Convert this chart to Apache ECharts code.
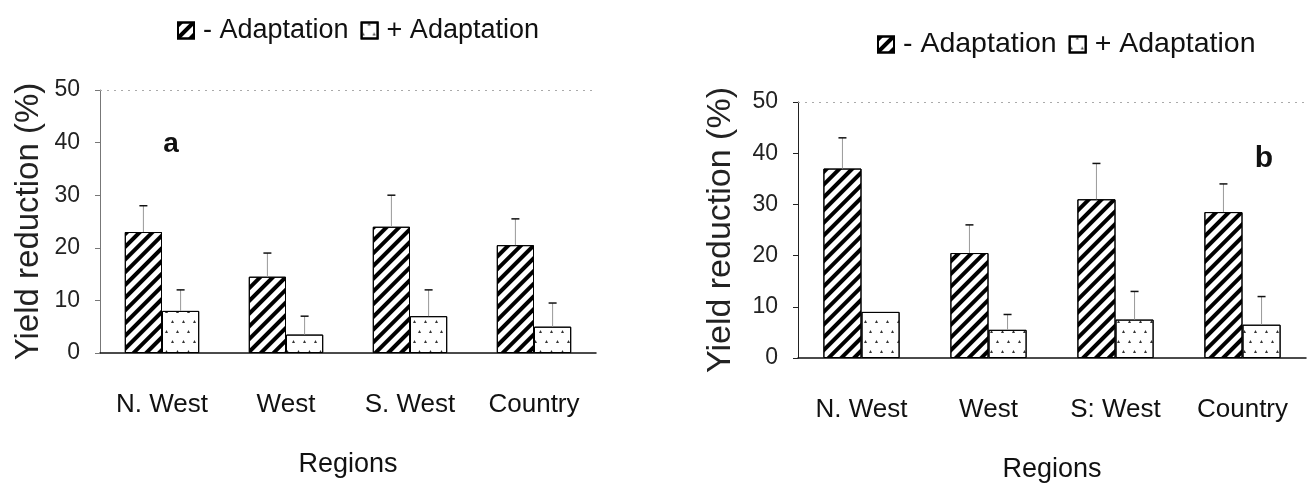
<!DOCTYPE html>
<html><head><meta charset="utf-8">
<script src="https://cdn.jsdelivr.net/npm/echarts@6/dist/echarts.min.js"></script>
<style>html,body{margin:0;padding:0;background:#fff}#c{width:1314px;height:488px}</style>
</head><body><div id="c"></div>
<script>
// ---- data ----
const categoriesA = ['N. West', 'West', 'S. West', 'Country'];
const categoriesB = ['N. West', 'West', 'S: West', 'Country'];
const seriesNames = ['- Adaptation', '+ Adaptation'];
const yTicks = [0, 10, 20, 30, 40, 50];
// panel a
const aWithout = [23, 14.5, 24, 20.5];
const aWithoutErr = [5, 4.5, 6, 5];
const aWith = [8, 3.5, 7, 5];
const aWithErr = [4, 3.5, 5, 4.5];
// panel b
const bWithout = [37, 20.5, 31, 28.5];
const bWithoutErr = [6, 5.5, 7, 5.5];
const bWith = [9, 5.5, 7.5, 6.5];
const bWithErr = [0, 3, 5.5, 5.5];

const FONT = "'Liberation Sans', Arial, sans-serif";
const chart = echarts.init(document.getElementById('c'), null, {renderer: 'canvas'});

const hatch = {symbol: 'rect', symbolSize: 1, dashArrayX: [1, 0], dashArrayY: [4, 5], rotation: -Math.PI / 4, color: '#000'};
const dots = {symbol: 'triangle', symbolSize: 1, dashArrayX: [[3, 8], [0, 6, 3, 2]], dashArrayY: [3, 7], rotation: 0, color: '#333'};

function makeErr(side) {
  return function (params, api) {
    const i = api.value(0), v = api.value(1), e = api.value(2);
    if (!e) return null;
    const band = api.size([1, 0])[0];
    const base = api.coord([i, v]);
    const top = api.coord([i, v + e]);
    const x = base[0] + side * band * 0.15;
    return {type: 'group', children: [
      {type: 'line', shape: {x1: x, y1: base[1], x2: x, y2: top[1]}, style: {stroke: '#999', lineWidth: 1}},
      {type: 'line', shape: {x1: x - 4, y1: top[1], x2: x + 4, y2: top[1]}, style: {stroke: '#111', lineWidth: 1.5}}
    ]};
  };
}
function errData(vals, errs) { return vals.map((v, i) => [i, v, errs[i]]); }

const grids = [
  {left: 100, top: 90, width: 496, height: 263},
  {left: 798, top: 102, width: 508, height: 263}
];

function xAxis(idx, cats) {
  return {
    type: 'category', gridIndex: idx, data: cats,
    axisLine: {lineStyle: {color: '#111', width: 1.5}},
    axisTick: {show: false},
    axisLabel: {color: '#111', fontFamily: FONT, fontSize: 26, margin: 39, interval: 0},
    name: 'Regions', nameLocation: 'middle', nameGap: 98,
    nameTextStyle: {color: '#111', fontFamily: FONT, fontSize: 27}
  };
}
function yAxis(idx, gap, nameSize, axisColor) {
  return {
    type: 'value', gridIndex: idx, min: yTicks[0], max: yTicks[yTicks.length - 1], interval: 10,
    axisLine: {show: true, lineStyle: {color: axisColor, width: 1}},
    axisTick: {show: true, length: 5, lineStyle: {color: axisColor}},
    splitLine: {show: false},
    axisLabel: {color: '#222', fontFamily: FONT, fontSize: 23, margin: 20},
    name: 'Yield reduction (%)', nameLocation: 'middle', nameGap: gap, nameRotate: 90,
    nameTextStyle: {color: '#222', fontFamily: FONT, fontSize: nameSize}
  };
}

function barSeries(name, data, idx, decal, withMark) {
  const s = {
    name: name, type: 'bar', xAxisIndex: idx, yAxisIndex: idx, data: data,
    barGap: '0%', barCategoryGap: '40%',
    itemStyle: {color: '#fff', borderColor: '#000', borderWidth: 1, decal: decal},
    emphasis: {disabled: true}
  };
  if (withMark) {
    s.markLine = {silent: true, symbol: 'none', label: {show: false},
      lineStyle: {type: [2, 5], color: '#aaa', width: 1},
      data: [{yAxis: yTicks[yTicks.length - 1]}]};
  }
  return s;
}

const option = {
  backgroundColor: '#fff',
  animation: false,
  grid: grids,
  legend: [
    {left: 172, top: 12, icon: 'rect', itemWidth: 16, itemHeight: 16, itemGap: 12, data: seriesNames,
     textStyle: {fontFamily: FONT, fontSize: 27, color: '#111', padding: [0, 0, 0, 4]}},
    {left: 872, top: 25, icon: 'rect', itemWidth: 16, itemHeight: 16, itemGap: 12, data: seriesNames,
     textStyle: {fontFamily: FONT, fontSize: 28.5, color: '#111', padding: [0, 0, 0, 4]}}
  ],
  xAxis: [xAxis(0, categoriesA), xAxis(1, categoriesB)],
  yAxis: [yAxis(0, 55, 33, '#777'), yAxis(1, 60, 34, '#222')],
  graphic: [
    {type: 'text', x: 171, y: 144, style: {text: 'a', font: 'bold 28px ' + FONT, fill: '#111', textAlign: 'center', textVerticalAlign: 'middle'}},
    {type: 'text', x: 1264, y: 159, style: {text: 'b', font: 'bold 30px ' + FONT, fill: '#111', textAlign: 'center', textVerticalAlign: 'middle'}}
  ],
  series: [
    barSeries(seriesNames[0], aWithout, 0, hatch, true),
    barSeries(seriesNames[1], aWith, 0, dots, false),
    barSeries(seriesNames[0], bWithout, 1, hatch, true),
    barSeries(seriesNames[1], bWith, 1, dots, false),
    {type: 'custom', xAxisIndex: 0, yAxisIndex: 0, renderItem: makeErr(-1), data: errData(aWithout, aWithoutErr), z: 5, silent: true},
    {type: 'custom', xAxisIndex: 0, yAxisIndex: 0, renderItem: makeErr(1), data: errData(aWith, aWithErr), z: 5, silent: true},
    {type: 'custom', xAxisIndex: 1, yAxisIndex: 1, renderItem: makeErr(-1), data: errData(bWithout, bWithoutErr), z: 5, silent: true},
    {type: 'custom', xAxisIndex: 1, yAxisIndex: 1, renderItem: makeErr(1), data: errData(bWith, bWithErr), z: 5, silent: true}
  ]
};
chart.setOption(option);
</script>
</body></html>
